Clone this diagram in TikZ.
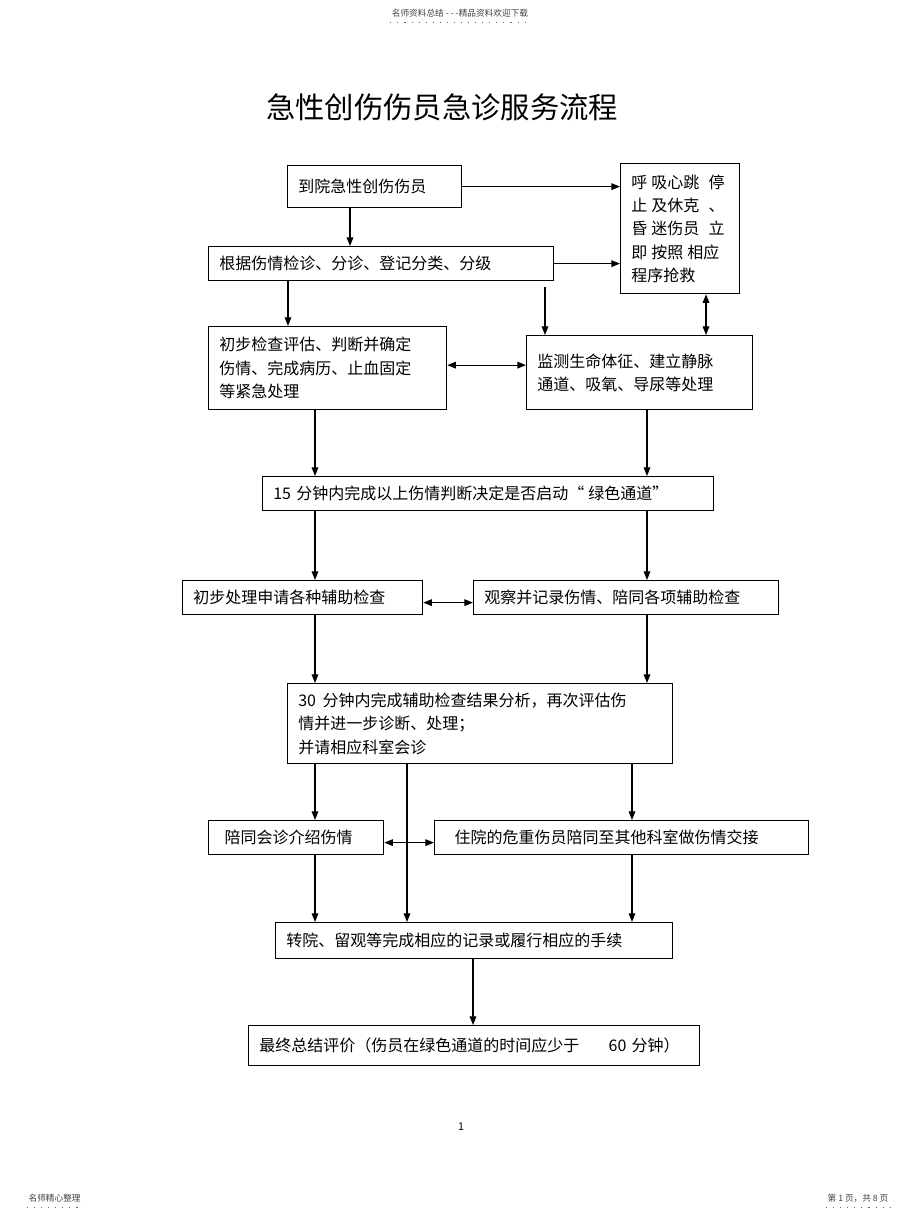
\documentclass[tikz,border=0pt]{standalone}
\usepackage{fontspec}
\setmainfont{Noto Sans CJK SC}
\usetikzlibrary{arrows.meta,calc}

\begin{document}
\begin{tikzpicture}[x=0.75pt,y=-0.75pt,>={Triangle[length=6.5pt,width=5pt]},
    box/.style={draw,line width=0.95pt,anchor=north west,align=left,inner xsep=8pt,inner ysep=0pt,
      font=\fontsize{12}{17.5}\selectfont},
    link/.style={line width=0.9pt},
    tiny/.style={font=\fontsize{6.5}{6.5}\selectfont,text=black!75,inner sep=1pt},
    dots/.style={black!60,line width=0.8pt,dash pattern=on 0.8pt off 4.5pt}]
      \useasboundingbox (0,0) rectangle (920,1221);
      % page header and footer
      \node[tiny] (hdr) at (460,13) {名师资料总结 - - -精品资料欢迎下载};
      \node[tiny,anchor=west] (ftl) at (27,1198) {名师精心整理};
      \node[tiny,anchor=east] (ftr) at (890,1198) {第 1 页，共 8 页};
      \draw[dots] ($(hdr.south west)+(0,4)$) -- ($(hdr.south east)+(0,4)$);
      \draw[dots] ($(ftl.south west)+(0,4)$) -- ($(ftl.south east)+(0,4)$);
      \draw[dots] ($(ftr.south west)+(0,4)$) -- ($(ftr.south east)+(0,4)$);
      \node[font=\fontsize{8}{8}\selectfont] (pgno) at (461,1127) {1};
      \node[font=\fontsize{22}{22}\selectfont] (title) at (442,107) {急性创伤伤员急诊服务流程};
      % flow boxes
      \node[box,text width=114.5pt,minimum height=31.5pt] (b1) at (287,165) {到院急性创伤伤员};
      \node[box,text width=73.25pt,minimum height=97.5pt] (b2) at (620,163)
        {呼\hspace{3pt}吸心跳\hspace{7pt}停\\止\hspace{3pt}及休克\hspace{7pt}、\\昏\hspace{3pt}迷伤员\hspace{7pt}立\\即\hspace{3pt}按照\hspace{3pt}相应\\程序抢救};
      \node[box,text width=242.75pt,minimum height=25.5pt] (b3) at (208,246) {根据伤情检诊、分诊、登记分类、分级};
      \node[box,text width=162.5pt,minimum height=62.25pt] (b4) at (208,326)
        {初步检查评估、判断并确定\\伤情、完成病历、止血固定\\等紧急处理};
      \node[box,text width=153.5pt,minimum height=55.5pt] (b5) at (526,335)
        {监测生命体征、建立静脉\\通道、吸氧、导尿等处理};
      \node[box,text width=322.25pt,minimum height=25.5pt] (b6) at (262,476)
        {15 分钟内完成以上伤情判断决定是否启动“\hspace{3pt}绿色通道”};
      \node[box,text width=164pt,minimum height=25.5pt] (b7) at (182,580) {初步处理申请各种辅助检查};
      \node[box,text width=212.75pt,minimum height=25.5pt] (b8) at (473,580) {观察并记录伤情、陪同各项辅助检查};
      \node[box,text width=272.75pt,minimum height=60pt] (b9) at (287,683)
        {30\hspace{5pt}分钟内完成辅助检查结果分析，再次评估伤\\情并进一步诊断、处理；\\并请相应科室会诊};
      \node[box,text width=115.25pt,minimum height=25.5pt] (b10) at (208,820) {\hspace{4pt}陪同会诊介绍伤情};
      \node[box,text width=264.5pt,minimum height=25.5pt] (b11) at (434,820) {\hspace{7pt}住院的危重伤员陪同至其他科室做伤情交接};
      \node[box,text width=281.75pt,minimum height=27pt] (b12) at (275,922) {转院、留观等完成相应的记录或履行相应的手续};
      \node[box,text width=322.25pt,minimum height=30pt] (b13) at (248,1025)
        {最终总结评价（伤员在绿色通道的时间应少于\hspace{22pt}60 分钟）};
      % columns of the vertical links
      \coordinate (xa) at (350,0);
      \coordinate (xb) at (288,0);
      \coordinate (xc) at (545,0);
      \coordinate (xd) at (706,0);
      \coordinate (xl) at (315,0);
      \coordinate (xr) at (647,0);
      \coordinate (xm) at (407,0);
      \coordinate (xs) at (632,0);
      \coordinate (xf) at (473,0);
      % starts of the side links
      \coordinate (s3) at ($(b3.south -| xc)+(0,6)$);
      \coordinate (s4) at ($(b4.east)+(0,-3)$);
      \coordinate (s7) at ($(b7.east)+(0,5)$);
      \coordinate (s10) at ($(b10.east)+(0,5)$);
      \path[->,link]
      (b1) edge (b1 -| b2.west)
      (b3) edge (b3 -| b2.west)
      (b1.south -| xa) edge (b3.north -| xa)
      (b3.south -| xb) edge (b4.north -| xb)
      (s3) edge (b5.north -| xc)
      (b2.south -| xd) edge [<->] (b5.north -| xd)
      (s4) edge [<->] (s4 -| b5.west)
      (b4.south -| xl) edge (b6.north -| xl)
      (b5.south -| xr) edge (b6.north -| xr)
      (b6.south -| xl) edge (b7.north -| xl)
      (b6.south -| xr) edge (b8.north -| xr)
      (s7) edge [<->] (s7 -| b8.west)
      (b7.south -| xl) edge (b9.north -| xl)
      (b8.south -| xr) edge (b9.north -| xr)
      (b9.south -| xl) edge (b10.north -| xl)
      (b9.south -| xs) edge (b11.north -| xs)
      (b9.south -| xm) edge (b12.north -| xm)
      (s10) edge [<->] (s10 -| b11.west)
      (b10.south -| xl) edge (b12.north -| xl)
      (b11.south -| xs) edge (b12.north -| xs)
      (b12.south -| xf) edge (b13.north -| xf)
      ; %end path
\end{tikzpicture}
\end{document}
